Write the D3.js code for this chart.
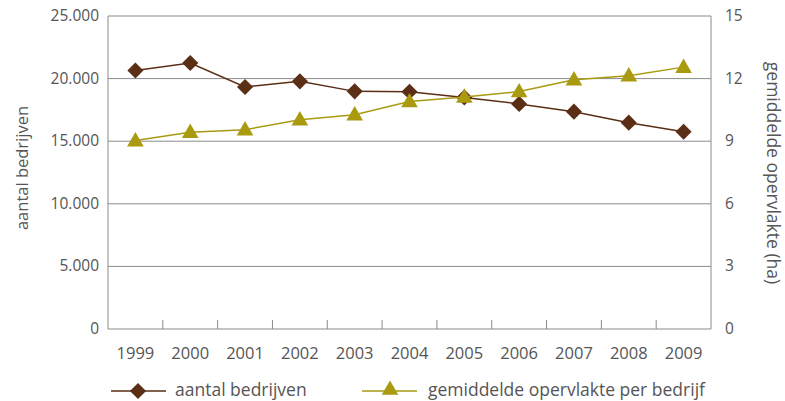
<!DOCTYPE html>
<html>
<head>
<meta charset="utf-8">
<script src="https://cdn.jsdelivr.net/npm/d3@7"></script>
<style>
    body { margin: 0; background: #fff; }
    svg text { font-family: "Open Sans", sans-serif; fill: #555; }
</style>
</head>
<body>
<svg width="785" height="401"></svg>
<script>
let years = ['1999', '2000', '2001', '2002', '2003', '2004', '2005', '2006', '2007', '2008', '2009']
let bedrijven = [20650, 21250, 19330, 19780, 18980, 18950, 18500, 17980, 17360, 16480, 15750]
let oppervlakte = [9.03, 9.43, 9.55, 10.03, 10.27, 10.9, 11.12, 11.38, 11.95, 12.14, 12.55]
let leftTicks = [0, 5000, 10000, 15000, 20000, 25000]
let rightTicks = [0, 3, 6, 9, 12, 15]

let svg = d3.select('svg')
let plot = { left: 108, right: 711, top: 16, bottom: 329 }
let brown = '#5b2e16', olive = '#a99a10'

let scale = {
    x: d3.scaleBand().domain(years).range([plot.left, plot.right]),
    y: d3.scaleLinear().domain([0, 25000]).range([plot.bottom, plot.top]),
    y2: d3.scaleLinear().domain([0, 15]).range([plot.bottom, plot.top])
}
let fmt = d => d3.format(',')(d).replace(/,/g, '.')

// grid lines
svg.append('g').selectAll('line')
    .data(leftTicks.slice(1))
    .enter().append('line')
    .attr('x1', plot.left).attr('x2', plot.right)
    .attr('y1', d => scale.y(d)).attr('y2', d => scale.y(d))
    .attr('stroke', '#8a8a8a')

// frame
svg.append('line').attr('x1', plot.left).attr('x2', plot.left).attr('y1', plot.top).attr('y2', plot.bottom).attr('stroke', '#8a8a8a')
svg.append('line').attr('x1', plot.right).attr('x2', plot.right).attr('y1', plot.top).attr('y2', plot.bottom).attr('stroke', '#8a8a8a')
svg.append('line').attr('x1', plot.left).attr('x2', plot.right).attr('y1', plot.bottom).attr('y2', plot.bottom).attr('stroke', '#8a8a8a')

// x ticks between categories
svg.append('g').selectAll('line')
    .data(years.slice(1))
    .enter().append('line')
    .attr('x1', d => scale.x(d)).attr('x2', d => scale.x(d))
    .attr('y1', plot.bottom - 9).attr('y2', plot.bottom)
    .attr('stroke', '#8a8a8a')

// x labels
svg.append('g').selectAll('text')
    .data(years)
    .enter().append('text')
    .attr('x', d => scale.x(d) + scale.x.bandwidth() / 2)
    .attr('y', 359)
    .attr('text-anchor', 'middle')
    .attr('font-size', 16.5)
    .text(d => d)

// left y labels
svg.append('g').selectAll('text')
    .data(leftTicks)
    .enter().append('text')
    .attr('x', 99)
    .attr('y', d => scale.y(d) + 5)
    .attr('text-anchor', 'end')
    .attr('font-size', 15.5)
    .text(d => fmt(d))

// right y labels
svg.append('g').selectAll('text')
    .data(rightTicks)
    .enter().append('text')
    .attr('x', 725)
    .attr('y', d => scale.y2(d) + 5)
    .attr('text-anchor', 'start')
    .attr('font-size', 15.5)
    .text(d => d)

// axis titles
svg.append('text')
    .attr('transform', 'translate(28,168) rotate(-90)')
    .attr('text-anchor', 'middle')
    .attr('font-size', 16.5)
    .text('aantal bedrijven')

svg.append('text')
    .attr('transform', 'translate(767,173) rotate(90)')
    .attr('text-anchor', 'middle')
    .attr('font-size', 17.5)
    .attr('fill', '#666')
    .text('gemiddelde opervlakte (ha)')

let cx = d => scale.x(d) + scale.x.bandwidth() / 2
let diamond = d3.symbol().type(d3.symbolSquare).size(130)
let triangle = d3.symbol().type(d3.symbolTriangle).size(120)

// series: aantal bedrijven
svg.append('path')
    .datum(years)
    .attr('fill', 'none')
    .attr('stroke', brown)
    .attr('stroke-width', 1.5)
    .attr('d', d3.line().x(d => cx(d)).y((d, i) => scale.y(bedrijven[i])))

svg.append('g').selectAll('path')
    .data(years)
    .enter().append('path')
    .attr('d', diamond)
    .attr('fill', brown)
    .attr('transform', (d, i) => `translate(${cx(d)},${scale.y(bedrijven[i])}) rotate(45)`)

// series: gemiddelde opervlakte
svg.append('path')
    .datum(years)
    .attr('fill', 'none')
    .attr('stroke', olive)
    .attr('stroke-width', 1.5)
    .attr('d', d3.line().x(d => cx(d)).y((d, i) => scale.y2(oppervlakte[i])))

svg.append('g').selectAll('path')
    .data(years)
    .enter().append('path')
    .attr('d', triangle)
    .attr('fill', olive)
    .attr('transform', (d, i) => `translate(${cx(d)},${scale.y2(oppervlakte[i]) + 1})`)

// legend
let legend = svg.append('g')
legend.append('line').attr('x1', 111).attr('x2', 166).attr('y1', 391).attr('y2', 391).attr('stroke', brown).attr('stroke-width', 1.5)
legend.append('path').attr('d', diamond).attr('fill', brown).attr('transform', 'translate(138,391) rotate(45)')
legend.append('text').attr('x', 175).attr('y', 396).attr('font-size', 17.5).text('aantal bedrijven')

legend.append('line').attr('x1', 362).attr('x2', 417).attr('y1', 391).attr('y2', 391).attr('stroke', olive).attr('stroke-width', 1.5)
legend.append('path').attr('d', triangle).attr('fill', olive).attr('transform', 'translate(390,390)')
legend.append('text').attr('x', 428).attr('y', 396).attr('font-size', 17.5).text('gemiddelde opervlakte per bedrijf')
</script>
</body>
</html>
